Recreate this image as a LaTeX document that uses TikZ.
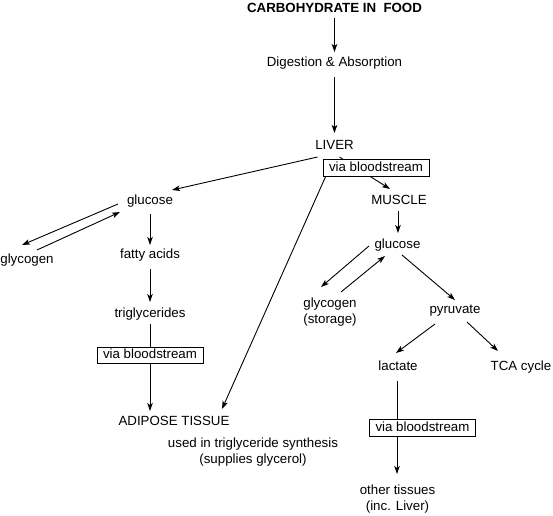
\documentclass[tikz,border=0pt]{standalone}
\usepackage{fontspec}
\setmainfont{Liberation Sans}
\usetikzlibrary{arrows.meta,calc}
\begin{document}
\begin{tikzpicture}[x=1pt,y=-1pt,
  every node/.style={inner sep=0pt,text height=9.5pt,text depth=2.8pt,font=\fontsize{13.3}{16}\selectfont},
  lbl/.style={},
  twoline/.style={align=center,text height=,text depth=},
  viabox/.style={draw,fill=white,line width=0.8pt,inner xsep=6pt,inner ysep=2pt},
  conn/.style={line width=0.9pt},
  arr/.style={conn,-{Stealth[length=8pt,width=5.5pt,inset=2pt]}}]
\useasboundingbox (0,0) rectangle (553,515);
% nodes
\node[lbl] (title) at (334.5,9) {\bfseries CARBOHYDRATE IN\ \ FOOD};
\node[lbl] (dig) at (334.5,63) {Digestion \& Absorption};
\node[lbl] (liver) at (334.5,146) {LIVER};
\node[lbl] (glu1) at (150,201) {glucose};
\node[lbl] (glyc1) at (27,260) {glycogen};
\node[lbl] (fatty) at (150,255) {fatty acids};
\node[lbl] (trig) at (150,314) {triglycerides};
\node[lbl] (adipose) at (174,422) {ADIPOSE TISSUE};
\node[twoline] (used) at (253,452) {used in triglyceride synthesis\\(supplies glycerol)};
\node[lbl] (muscle) at (399,201) {MUSCLE};
\node[lbl] (glu2) at (397.5,245) {glucose};
\node[twoline] (glyc2) at (330,312.5) {glycogen\\(storage)};
\node[lbl] (pyr) at (455,310) {pyruvate};
\node[lbl] (lact) at (398,367) {lactate};
\node[lbl] (tca) at (521,367) {TCA cycle};
\node[twoline] (other) at (397.5,499) {other tissues\\(inc. Liver)};
% connectors
\draw[arr] ($(title)+(0,9)$) -- ($(dig)+(0,-11)$);
\draw[arr] ($(dig)+(0,14)$) -- ($(liver)+(0,-13)$);
\draw[arr] ($(liver)+(-17,11)$) -- ($(glu1)+(22,-11)$);
\draw[arr] ($(liver)+(5,11)$) -- ($(muscle)+(-9,-12)$);
\draw[arr] ($(liver)+(-1.5,14)$) -- ($(adipose)+(48,-13)$);
\draw[arr] ($(muscle)+(-1,10)$) -- ($(glu2)+(0.5,-12)$);
\draw[arr] ($(glu2)+(-28.5,1)$) -- ($(glyc2)+(-9,-25.5)$);
\draw[arr] ($(glyc2)+(11,-20.5)$) -- ($(glu2)+(-12.5,11)$);
\draw[arr] ($(glu2)+(4.5,10)$) -- ($(pyr)+(0,-10)$);
\draw[arr] ($(pyr)+(-20,14)$) -- ($(lact)+(-2,-14)$);
\draw[arr] ($(pyr)+(12,12)$) -- ($(tca)+(-23,-16)$);
\draw[arr] ($(lact)+(-1,14)$) -- ($(other)+(-0.5,-25)$);
\draw[arr] ($(glu1)+(-32,3)$) -- ($(glyc1)+(-5,-15)$);
\draw[arr] ($(glyc1)+(10,-10)$) -- ($(glu1)+(-30,11)$);
\draw[arr] ($(glu1)+(0,13)$) -- ($(fatty)+(0,-10)$);
\draw[arr] ($(fatty)+(0,14)$) -- ($(trig)+(0,-12)$);
\draw[arr] ($(trig)+(0,10)$) -- ($(adipose)+(-24,-11)$);
% boxes on top of lines
\node[viabox] (box1) at (376,168) {via bloodstream};
\node[viabox] (box2) at (150,355.5) {via bloodstream};
\node[viabox] (box3) at (422.5,428) {via bloodstream};
\end{tikzpicture}
\end{document}
